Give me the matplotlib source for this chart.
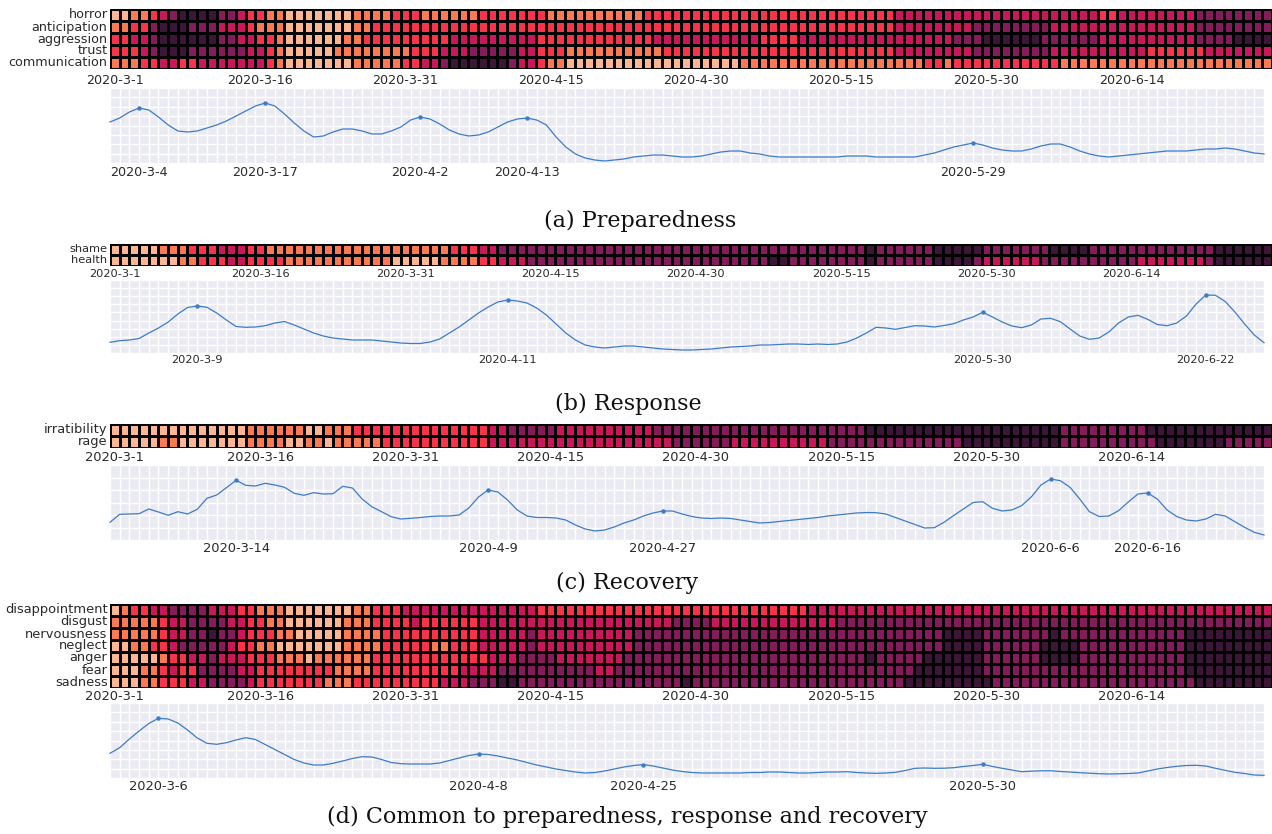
import matplotlib
matplotlib.use("Agg")
import matplotlib.pyplot as plt
import matplotlib.transforms as mtrans
from matplotlib.colors import ListedColormap, BoundaryNorm
import numpy as np

# heatmap levels: 0 light ... 5 dark, stored as (level, count) runs over 120 days
ndays = 120
tick_cols = [0, 15, 30, 45, 60, 75, 90, 105]
tick_labels = ["2020-3-1", "2020-3-16", "2020-3-31", "2020-4-15",
               "2020-4-30", "2020-5-15", "2020-5-30", "2020-6-14"]

prep_rows = ["horror", "anticipation", "aggression", "trust", "communication"]
prep_runs = [
    [(0,2),(1,2),(2,1),(3,1),(4,1),(5,4),(4,2),(3,1),(2,2),(1,2),(0,7),(1,4),(2,3),(1,6),(2,7),(1,10),(2,26),(3,21),(2,2),(3,8),(4,8)],
    [(1,2),(2,2),(4,1),(5,3),(4,3),(3,3),(2,1),(1,3),(0,7),(1,2),(2,54),(3,8),(4,8),(3,15),(4,8)],
    [(2,2),(3,2),(4,1),(5,6),(4,2),(3,2),(2,2),(1,1),(0,6),(1,2),(2,9),(3,9),(2,12),(3,11),(2,4),(3,16),(4,3),(5,6),(4,6),(3,10),(4,4),(5,4)],
    [(2,3),(3,1),(4,1),(5,3),(4,6),(3,2),(2,1),(1,1),(0,5),(1,8),(2,3),(3,3),(4,5),(3,2),(2,3),(1,10),(2,24),(3,8),(4,8),(3,10),(2,6),(3,7)],
    [(1,3),(2,2),(3,2),(2,2),(3,7),(2,1),(1,1),(0,7),(1,5),(2,2),(3,2),(4,1),(5,6),(4,1),(3,2),(2,1),(1,2),(0,18),(1,19),(2,2),(1,1),(2,11),(1,22)],
]
resp_rows = ["shame", "health"]
resp_runs = [
    [(0,5),(1,3),(2,3),(3,3),(2,2),(1,19),(2,3),(3,2),(4,38),(5,1),(4,6),(5,5),(4,7),(5,4),(4,13),(5,6)],
    [(0,7),(1,2),(2,3),(3,2),(2,4),(1,11),(0,5),(1,4),(2,2),(3,3),(4,25),(5,2),(4,8),(5,1),(4,6),(5,4),(4,1),(3,6),(4,10),(3,7),(4,1),(5,6)],
]
reco_rows = ["irratibility", "rage"]
reco_runs = [
    [(0,14),(1,6),(0,2),(1,3),(2,14),(3,2),(4,5),(3,10),(4,22),(5,20),(4,9),(5,13)],
    [(0,5),(1,2),(0,7),(1,4),(0,2),(1,2),(0,1),(1,5),(2,11),(3,19),(4,6),(3,10),(4,14),(5,10),(4,10),(5,7),(4,5)],
]
comm_rows = ["disappointment", "disgust", "nervousness", "neglect", "anger", "fear", "sadness"]
comm_runs = [
    [(0,1),(1,1),(2,2),(3,2),(4,4),(3,3),(2,2),(1,3),(0,7),(1,2),(2,3),(3,14),(2,28),(3,48)],
    [(1,5),(2,1),(3,2),(4,4),(3,2),(2,2),(1,2),(0,6),(1,3),(2,4),(3,1),(2,6),(3,20),(4,4),(3,13),(4,45)],
    [(1,5),(2,1),(3,2),(4,2),(5,1),(4,2),(3,1),(2,3),(1,2),(0,5),(1,4),(2,10),(3,5),(4,1),(3,10),(4,32),(5,4),(4,7),(5,1),(4,13),(5,9)],
    [(0,2),(1,2),(2,2),(3,1),(4,5),(3,1),(2,2),(1,2),(0,7),(1,4),(2,5),(1,2),(2,3),(3,5),(4,1),(3,10),(4,32),(5,4),(4,6),(5,4),(4,11),(5,9)],
    [(0,5),(1,1),(2,2),(3,2),(4,1),(3,3),(2,3),(1,3),(0,1),(1,6),(2,12),(3,3),(4,4),(3,7),(4,25),(5,1),(4,5),(5,6),(4,6),(5,4),(4,11),(5,9)],
    [(0,3),(1,2),(2,1),(3,1),(2,2),(4,4),(3,2),(2,8),(1,4),(2,9),(3,4),(4,10),(3,2),(4,31),(5,7),(4,21),(5,9)],
    [(0,3),(1,2),(2,3),(3,2),(4,4),(3,1),(2,7),(1,3),(2,9),(3,3),(4,3),(5,2),(4,17),(5,1),(4,22),(5,9),(4,21),(5,8)],
]

# daily intensity lines (arbitrary units)
prep_line = [41, 45, 51, 55, 53, 46, 38, 32, 31, 32,
             35, 38, 42, 47, 52, 57, 60, 57, 49, 40,
             32, 26, 27, 31, 34, 34, 32, 29, 29, 32,
             36, 43, 46, 44, 39, 33, 29, 27, 28, 31,
             36, 41, 44, 45, 43, 38, 26, 16, 9, 5,
             3, 2, 3, 4, 6, 7, 8, 8, 7, 6,
             6, 7, 9, 11, 12, 12, 10, 9, 7, 6,
             6, 6, 6, 6, 6, 6, 7, 7, 7, 6,
             6, 6, 6, 6, 8, 10, 13, 16, 18, 20,
             18, 15, 13, 12, 12, 14, 17, 19, 19, 16,
             12, 9, 7, 6, 7, 8, 9, 10, 11, 12,
             12, 12, 13, 14, 14, 15, 14, 12, 10, 9]
resp_line = [10.7, 12.3, 13, 14.5, 20, 25, 31, 39, 45.5, 47,
             45.7, 40, 33, 26.5, 25.7, 26, 27.3, 30, 31.5, 28,
             24, 20, 17, 15, 14, 13, 13, 13, 12, 11,
             10, 9.5, 9.5, 11, 14, 20, 26, 33, 40, 46,
             51, 53, 52, 50, 45, 38, 29, 20, 13, 8,
             6, 5, 6, 7, 7, 6, 5, 4, 3.5, 3,
             3, 3.5, 4, 5, 6, 6.5, 7, 8, 8, 8.5,
             9, 9, 8.5, 9, 8.5, 9, 11, 15, 20, 25.7,
             25, 23.7, 25.5, 27.3, 27, 26, 27.5, 29.3, 33, 36,
             40.7, 36, 31, 27, 25.3, 28, 34, 34.7, 31.3, 24,
             17, 13.7, 15, 21, 30, 36, 37.7, 33.7, 28.5, 27.3,
             30, 37, 49, 58, 57.7, 51.5, 41, 29, 18, 10.3]
reco_line = [17.7, 25.7, 26, 26.3, 31, 28, 24.7, 28.3, 26, 30.7,
             41.7, 45, 52.3, 59.7, 54.7, 54, 56.7, 55, 52.7, 46.7,
             44.7, 47.3, 46, 46.3, 53.7, 52, 41, 33.3, 28.3, 23.3,
             21, 21.7, 22.5, 23.5, 24, 24, 25, 32, 43, 50,
             48, 40, 30, 24, 22.5, 22.5, 22, 20, 15, 11,
             9, 10, 13, 17, 20, 24, 27, 29, 29, 26,
             23.5, 22, 21.5, 22, 21.5, 20, 18.5, 17, 17.5, 18.5,
             19.5, 20.5, 21.5, 22.5, 24, 25, 26, 27, 27.5, 27.3,
             26, 22.5, 19, 15.5, 12, 12.3, 17.7, 24.5, 31, 37.5,
             38.3, 31.7, 29, 30, 34.3, 43, 55, 61, 59.3, 52.7,
             41, 28.3, 23.5, 24, 29.3, 38, 46, 47, 41, 30,
             23.5, 20, 19, 21, 25.7, 24, 18.3, 12.7, 7.7, 5]
comm_line = [24.7, 30.3, 39, 47, 54.5, 59.7, 59, 55, 48, 40,
             34.7, 33.7, 35.3, 38, 40.3, 38.5, 33.5, 28.5, 23.5, 18.5,
             15, 13, 13, 14.7, 17, 19.5, 21.3, 21, 18.5, 15.5,
             14.3, 14, 14, 14, 15, 17.5, 20, 22.5, 24, 23.5,
             22, 20, 18, 15.5, 13, 11, 9, 7.5, 6, 5,
             5.5, 7, 9, 11, 12.5, 13.5, 12, 10, 8, 6.5,
             5.5, 5, 5, 5, 5, 5, 5.5, 5.5, 6, 6,
             5.5, 5, 5, 5.5, 6, 6, 6.3, 5.5, 5, 4.7,
             5, 5.7, 7.5, 9.7, 10, 9.7, 9.8, 10.3, 11.5, 12.5,
             13.7, 11.5, 9.7, 8, 6.3, 6.8, 7.2, 7.3, 6.5, 6,
             5.3, 4.8, 4.3, 4, 4.2, 4.5, 5, 7, 9, 10.5,
             11.7, 12.5, 12.7, 12, 9.7, 7.7, 5.7, 4.5, 3, 2.7]

prep_peaks = [3, 16, 32, 43, 89]
prep_peak_labels = ["2020-3-4", "2020-3-17", "2020-4-2", "2020-4-13", "2020-5-29"]
resp_peaks = [9, 41, 90, 113]
resp_peak_labels = ["2020-3-9", "2020-4-11", "2020-5-30", "2020-6-22"]
reco_peaks = [13, 39, 57, 97, 107]
reco_peak_labels = ["2020-3-14", "2020-4-9", "2020-4-27", "2020-6-6", "2020-6-16"]
comm_peaks = [5, 38, 55, 90]
comm_peak_labels = ["2020-3-6", "2020-4-8", "2020-4-25", "2020-5-30"]

captions = ["(a) Preparedness", "(b) Response", "(c) Recovery",
            "(d) Common to preparedness, response and recovery"]

colors = ['#FCB691', '#FB7A52', '#F8344A', '#C8175A', '#841C5B', '#3B1637']
cmap = ListedColormap(colors)
norm = BoundaryNorm(np.arange(-0.5, 6.5, 1), cmap.N)

W, H = 1272, 834
fig = plt.figure(figsize=(W / 100, H / 100), dpi=100)


def px_axes(x0, y0, x1, y1):
    return fig.add_axes([x0 / W, 1 - y1 / H, (x1 - x0) / W, (y1 - y0) / H])


def expand(runs):
    row = []
    for lev, n in runs:
        row += [lev] * n
    return (row + [row[-1]] * ndays)[:ndays]


# layout per panel: heat top/bottom, line top/bottom, tick y, peak y, caption y/x, font size, y grid steps
layout = [
    dict(ht=9, hb=69, lt=88, lb=163, ty=81, py=172, cy=221, cx=640, fs=9.2, ng=8),
    dict(ht=244, hb=265.5, lt=280, lb=353, ty=274, py=360, cy=404, cx=628, fs=8.2, ng=9),
    dict(ht=424, hb=448, lt=465, lb=540, ty=457, py=548, cy=583, cx=627, fs=9.4, ng=6),
    dict(ht=604, hb=688, lt=703, lb=778, ty=697, py=787, cy=817, cx=627, fs=9.4, ng=8),
]
panels = [
    (prep_rows, prep_runs, prep_line, prep_peaks, prep_peak_labels),
    (resp_rows, resp_runs, resp_line, resp_peaks, resp_peak_labels),
    (reco_rows, reco_runs, reco_line, reco_peaks, reco_peak_labels),
    (comm_rows, comm_runs, comm_line, comm_peaks, comm_peak_labels),
]
txt = '#2a2a2a'
x_left, x_right, grid_right = 110, 1272, 1264

for k, (rows, runs, line, peaks, plabels) in enumerate(panels):
    L = layout[k]
    fs = L['fs']
    # heatmap
    ax = px_axes(x_left, L['ht'], x_right, L['hb'])
    M = np.array([expand(r) for r in runs])
    ax.pcolormesh(np.arange(ndays + 1), np.arange(len(rows) + 1), M, cmap=cmap, norm=norm,
                  edgecolors='black', linewidth=0.75)
    ax.set_xlim(0, ndays)
    ax.set_ylim(len(rows), 0)
    ax.axis('off')
    for i, name in enumerate(rows):
        ax.text(-0.25, i + 0.5, name, ha='right', va='center', fontsize=fs, color=txt)
    tr = mtrans.blended_transform_factory(ax.transData, fig.transFigure)
    for c, lab in zip(tick_cols, tick_labels):
        ax.text(c + 0.5, 1 - L['ty'] / H, lab, transform=tr, ha='center', va='center',
                fontsize=fs, color=txt)

    # line chart
    lx = px_axes(x_left, L['lt'], grid_right, L['lb'])
    hgt = L['lb'] - L['lt']
    lx.set_facecolor('#EAEAF2')
    days = np.arange(len(line))
    lx.plot(days, line, color='#3D7CC9', lw=0.9, clip_on=False, zorder=3)
    lx.plot(peaks, [line[p] for p in peaks], 'o', color='#3D7CC9', ms=2.2, zorder=4)
    lx.set_xlim(0, (grid_right - x_left) / ((x_right - x_left) / (ndays - 1)))
    lx.set_ylim(0, hgt)
    lx.set_xticks(np.arange(0, ndays))
    lx.set_yticks(np.linspace(0, hgt, L['ng'] + 1))
    lx.grid(True, color='white', lw=1.0)
    lx.set_axisbelow(True)
    lx.tick_params(length=0, labelbottom=False, labelleft=False)
    for s in lx.spines.values():
        s.set_visible(False)
    tr2 = mtrans.blended_transform_factory(lx.transData, fig.transFigure)
    for p, lab in zip(peaks, plabels):
        lx.text(p, 1 - L['py'] / H, lab, transform=tr2, ha='center', va='center',
                fontsize=fs, color=txt)

    fig.text(L['cx'] / W, 1 - L['cy'] / H, captions[k], ha='center', va='center',
             fontsize=16, family='DejaVu Serif', color='#111111')

fig.savefig("out.png", dpi=100, facecolor='white')
